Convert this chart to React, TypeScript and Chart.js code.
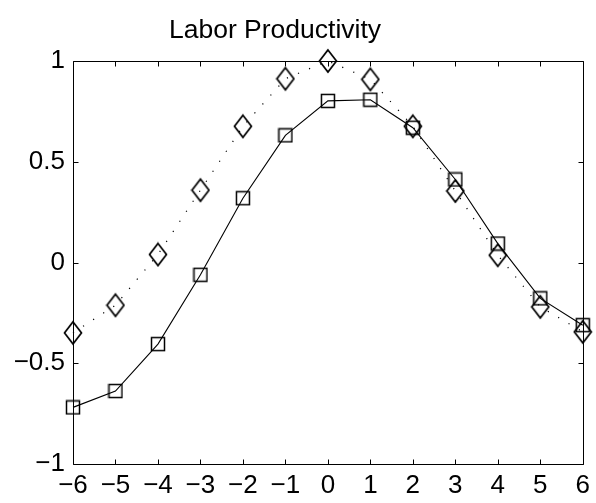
import React, { useEffect, useRef } from "react";
import { Chart, registerables } from "chart.js";

Chart.register(...registerables);

const TITLE = "Labor Productivity";
const xValues = [-6, -5, -4, -3, -2, -1, 0, 1, 2, 3, 4, 5, 6];
const squareSeries = [-0.719, -0.638, -0.405, -0.061, 0.319, 0.631, 0.802, 0.808, 0.669, 0.412, 0.094, -0.178, -0.311];
const diamondSeries = [-0.349, -0.212, 0.04, 0.359, 0.676, 0.912, 1.0, 0.909, 0.676, 0.355, 0.036, -0.22, -0.344];
const xTickValues = [-6, -5, -4, -3, -2, -1, 0, 1, 2, 3, 4, 5, 6];
const xTickLabels = ["\u22126", "\u22125", "\u22124", "\u22123", "\u22122", "\u22121", "0", "1", "2", "3", "4", "5", "6"];
const yTickValues = [-1, -0.5, 0, 0.5, 1];
const yTickLabels = ["\u22121", "\u22120.5", "0", "0.5", "1"];

const FONT = "'Liberation Sans', Arial, Helvetica, sans-serif";

function makeSquare() {
  const c = document.createElement("canvas");
  c.width = 16;
  c.height = 16;
  const g = c.getContext("2d")!;
  g.strokeStyle = "#000";
  g.lineWidth = 1.5;
  g.strokeRect(1.5, 1.5, 13, 13);
  return c;
}

function makeDiamond() {
  const c = document.createElement("canvas");
  c.width = 20;
  c.height = 26;
  const g = c.getContext("2d")!;
  g.strokeStyle = "#000";
  g.lineWidth = 1.7;
  const cx = 10, cy = 13, hw = 8.5, hh = 11;
  g.beginPath();
  g.moveTo(cx, cy - hh);
  g.lineTo(cx + hw, cy);
  g.lineTo(cx, cy + hh);
  g.lineTo(cx - hw, cy);
  g.closePath();
  g.stroke();
  return c;
}

const boxPlugin = {
  id: "matlabBox",
  beforeDatasetsDraw(chart: any) {
    const { ctx, chartArea } = chart;
    const { left, right, top, bottom } = chartArea;
    const xs = chart.scales.x;
    const ys = chart.scales.y;
    const L = 5;
    ctx.save();
    ctx.strokeStyle = "#000";
    ctx.lineWidth = 1;
    ctx.beginPath();
    const l = Math.round(left) + 0.5, r = Math.round(right) + 0.5;
    const t = Math.round(top) + 0.5, b = Math.round(bottom) + 0.5;
    ctx.rect(l, t, r - l, b - t);
    xTickValues.forEach((v) => {
      const px = Math.round(xs.getPixelForValue(v)) + 0.5;
      ctx.moveTo(px, b);
      ctx.lineTo(px, b - L);
      ctx.moveTo(px, t);
      ctx.lineTo(px, t + L);
    });
    yTickValues.forEach((v) => {
      const py = Math.round(ys.getPixelForValue(v)) + 0.5;
      ctx.moveTo(l, py);
      ctx.lineTo(l + L, py);
      ctx.moveTo(r, py);
      ctx.lineTo(r - L, py);
    });
    ctx.stroke();
    ctx.restore();
  },
  afterDraw(chart: any) {
    const { ctx } = chart;
    ctx.save();
    ctx.fillStyle = "#000";
    ctx.font = `26.5px ${FONT}`;
    ctx.textAlign = "center";
    ctx.textBaseline = "alphabetic";
    ctx.fillText(TITLE, 275, 38);
    ctx.restore();
  },
};

export default function App() {
  const ref = useRef<HTMLCanvasElement | null>(null);
  useEffect(() => {
    if (!ref.current) return;
    const square = makeSquare();
    const diamond = makeDiamond();
    const chart = new Chart(ref.current, {
      type: "line",
      data: {
        datasets: [
          {
            label: "diamonds",
            data: xValues.map((x, i) => ({ x, y: diamondSeries[i] })),
            borderColor: "#000",
            borderWidth: 1.2,
            borderDash: [1.2, 10.8],
            pointStyle: diamond as any,
            pointRadius: 9,
            fill: false,
            tension: 0,
            clip: false as any,
          },
          {
            label: "squares",
            data: xValues.map((x, i) => ({ x, y: squareSeries[i] })),
            borderColor: "#000",
            borderWidth: 1.1,
            pointStyle: square as any,
            pointRadius: 8,
            fill: false,
            tension: 0,
            clip: false as any,
          },
        ],
      },
      options: {
        responsive: false,
        animation: false,
        layout: { padding: { top: 61, right: 11, left: 0, bottom: 0 } },
        plugins: {
          legend: { display: false },
          tooltip: { enabled: false },
          title: { display: false },
        },
        scales: {
          x: {
            type: "linear",
            min: -6,
            max: 6,
            grid: { display: false, drawTicks: false },
            border: { display: false },
            afterBuildTicks: (s: any) => {
              s.ticks = xTickValues.map((v) => ({ value: v }));
            },
            afterFit: (s: any) => {
              s.height = 39;
            },
            ticks: {
              color: "#000",
              padding: 6,
              maxRotation: 0,
              autoSkip: false,
              font: { family: FONT, size: 26 },
              callback: (_v: any, i: number) => xTickLabels[i],
            },
          },
          y: {
            type: "linear",
            min: -1,
            max: 1,
            grid: { display: false, drawTicks: false },
            border: { display: false },
            afterBuildTicks: (s: any) => {
              s.ticks = yTickValues.map((v) => ({ value: v }));
            },
            afterFit: (s: any) => {
              s.width = 73;
            },
            ticks: {
              color: "#000",
              padding: 8,
              autoSkip: false,
              font: { family: FONT, size: 26 },
              callback: (_v: any, i: number) => yTickLabels[i],
            },
          },
        },
      },
      plugins: [boxPlugin],
    });
    return () => chart.destroy();
  }, []);
  return (
    <div style={{ position: "absolute", left: 0, top: 0, width: 596, height: 503, background: "#fff" }}>
      <canvas ref={ref} width={596} height={503} style={{ display: "block" }} />
    </div>
  );
}
